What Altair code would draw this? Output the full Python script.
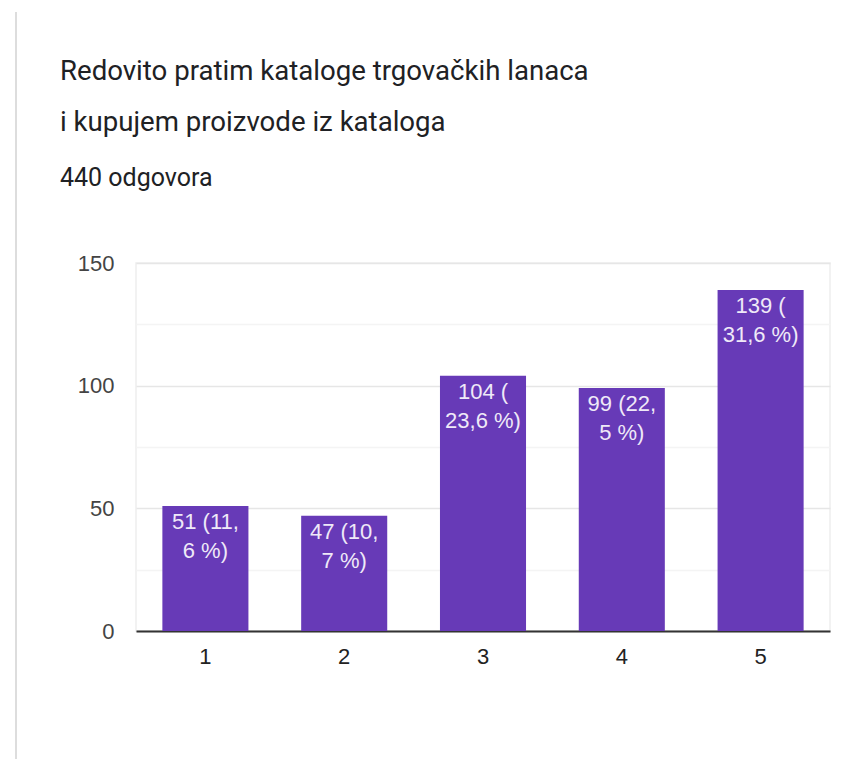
import altair as alt
import pandas as pd

categories = ["1", "2", "3", "4", "5"]
counts = [51, 47, 104, 99, 139]
bar_labels = ["51 (11,\n6 %)", "47 (10,\n7 %)", "104 (\n23,6 %)", "99 (22,\n5 %)", "139 (\n31,6 %)"]
y_ticks = [0, 25, 50, 75, 100, 125, 150]

title_lines = ["Redovito pratim kataloge trgovačkih lanaca", "i kupujem proizvode iz kataloga"]
subtitle_text = "440 odgovora"

df = pd.DataFrame({"cat": categories, "count": counts, "label": bar_labels})

PURPLE = "#673AB7"

x_enc = alt.X(
    "cat:N",
    sort=categories,
    title=None,
    scale=alt.Scale(paddingInner=0.38, paddingOuter=0.19),
    axis=alt.Axis(
        labelAngle=0, ticks=False, domain=True, domainColor="#333333", domainWidth=2,
        labelFont="Liberation Sans", labelFontSize=22, labelColor="#222222",
        labelPadding=15, grid=False,
    ),
)
y_enc = alt.Y(
    "count:Q",
    title=None,
    scale=alt.Scale(domain=[0, 150], nice=False),
    axis=alt.Axis(
        values=y_ticks, ticks=False, domain=False,
        labelExpr="datum.value % 50 == 0 ? datum.label : ''",
        labelFont="Liberation Sans", labelFontSize=22, labelColor="#444444",
        labelPadding=22,
        gridColor={"condition": {"test": "datum.value % 50 == 0", "value": "#e6e6e6"}, "value": "#f4f4f4"},
        gridWidth=1.5,
    ),
)

bars = alt.Chart(df).mark_bar(color=PURPLE).encode(x=x_enc, y=y_enc)

texts = alt.Chart(df).mark_text(
    baseline="top", align="center", dy=6, lineBreak="\n", lineHeight=29,
    font="Liberation Sans", fontSize=22, color="#EFE9F8",
).encode(x=alt.X("cat:N", sort=categories), y="count:Q", text="label:N")

border = alt.Chart(df).mark_rule(color="#dddddd", strokeWidth=2).encode(
    x=alt.value(-120), y=alt.value(-251), y2=alt.value(504)
)

chart = alt.layer(bars, texts, border).properties(
    width=694,
    height=368,
    autosize=alt.AutoSizeParams(type="none"),
    padding={"left": 128, "top": 255, "right": 7, "bottom": 128},
    title=alt.TitleParams(
        text=title_lines,
        subtitle=subtitle_text,
        anchor="start",
        frame="group",
        dx=-76,
        offset=-180,
        font="Roboto",
        fontSize=27.6,
        fontWeight="normal",
        color="#202124",
        lineHeight=51,
        subtitleFont="Roboto",
        subtitleFontSize=25,
        subtitleColor="#202124",
        subtitlePadding=29,
    ),
).configure_view(stroke="#eeeeee", strokeWidth=1.5)

chart.save("out.html", embed_options={"renderer": "svg", "actions": False})
